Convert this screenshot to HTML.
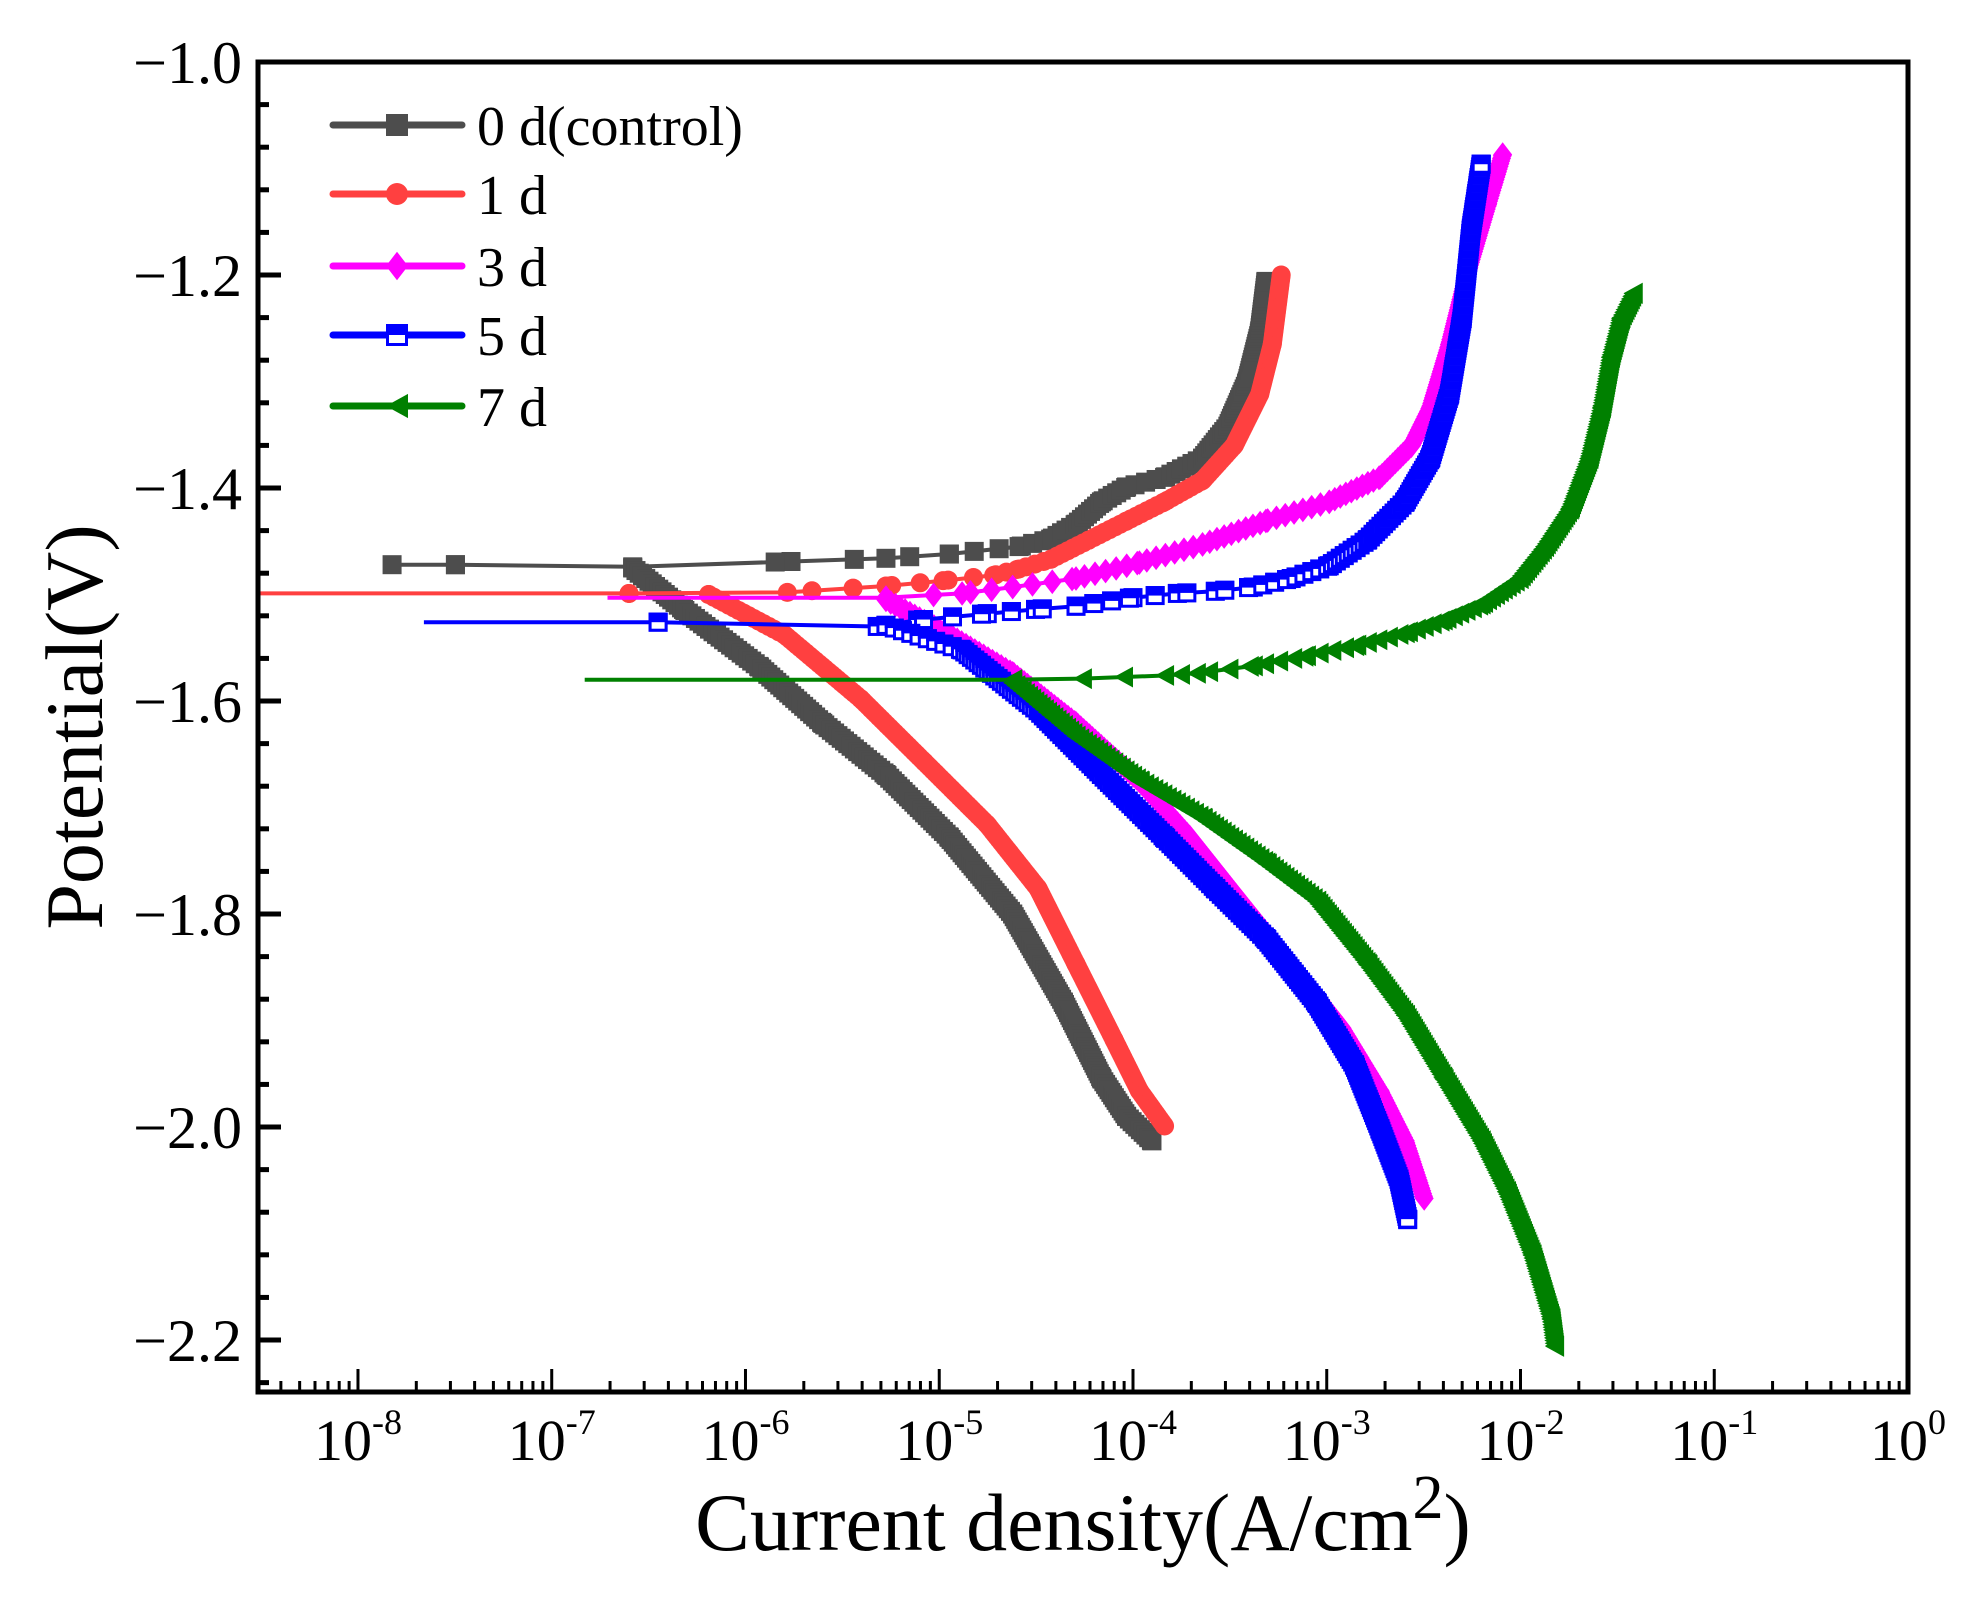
<!DOCTYPE html>
<html><head><meta charset="utf-8"><style>
html,body{margin:0;padding:0;background:#fff;}
svg{display:block;font-family:"Liberation Serif",serif;}
</style></head><body>
<svg id="chart" width="1986" height="1602" viewBox="0 0 1986 1602" xmlns="http://www.w3.org/2000/svg">
<rect width="1986" height="1602" fill="#fff"/>
<g id="curves"></g>
<g id="axes"></g>
<g id="legend"></g>
<text x="1083" y="1550" text-anchor="middle" font-size="82">Current density(A/cm<tspan dy="-32" font-size="62">2</tspan><tspan dy="32">)</tspan></text>
<text transform="translate(102,727) rotate(-90)" text-anchor="middle" font-size="82">Potential(V)</text>
</svg>
<script>
// ---- data: [log10(I), E] ----
const seriesNames = ["0 d(control)","1 d","3 d","5 d","7 d"];
const seriesColors = ["#4d4d4d","#ff4040","#ff00ff","#0000ff","#008000"];
const yTicks = [-1.0,-1.2,-1.4,-1.6,-1.8,-2.0,-2.2];
const yTickLabels = ["\u22121.0","\u22121.2","\u22121.4","\u22121.6","\u22121.8","\u22122.0","\u22122.2"];
const xDecades = [-8,-7,-6,-5,-4,-3,-2,-1,0];
const xTickLabels = ["-8","-7","-6","-5","-4","-3","-2","-1","0"];

const s0Lead = [];
const s0Anodic = [[-7.824,-1.472],[-7.497,-1.472],[-6.582,-1.474],[-5.765,-1.469],[-5.275,-1.466],[-4.948,-1.462],[-4.588,-1.455],[-4.425,-1.448],[-4.294,-1.434],[-4.163,-1.413],[-4.033,-1.399],[-3.837,-1.390],[-3.641,-1.372],[-3.510,-1.342],[-3.412,-1.301],[-3.346,-1.253],[-3.314,-1.206]];
const s0Cathodic = [[-6.582,-1.475],[-6.320,-1.514],[-5.928,-1.568],[-5.601,-1.621],[-5.275,-1.669],[-4.948,-1.728],[-4.621,-1.800],[-4.359,-1.883],[-4.163,-1.954],[-4.033,-1.990],[-3.902,-2.013]];

const s1Lead = [[-8.6,-1.499],[-6.601,-1.499]];
const s1Anodic = [[-6.601,-1.499],[-5.784,-1.498],[-5.275,-1.492],[-4.980,-1.487],[-4.719,-1.482],[-4.588,-1.476],[-4.425,-1.467],[-4.229,-1.449],[-4.033,-1.431],[-3.837,-1.413],[-3.641,-1.393],[-3.477,-1.360],[-3.346,-1.312],[-3.281,-1.265],[-3.235,-1.200]];
const s1Cathodic = [[-6.190,-1.500],[-5.797,-1.538],[-5.405,-1.598],[-5.078,-1.657],[-4.752,-1.716],[-4.490,-1.776],[-4.294,-1.847],[-4.098,-1.918],[-3.967,-1.966],[-3.837,-1.999]];

const s2Lead = [[-6.712,-1.503],[-5.275,-1.503]];
const s2Anodic = [[-5.275,-1.503],[-4.882,-1.499],[-4.621,-1.493],[-4.294,-1.485],[-3.967,-1.470],[-3.641,-1.453],[-3.314,-1.431],[-2.987,-1.413],[-2.725,-1.390],[-2.562,-1.360],[-2.464,-1.324],[-2.366,-1.265],[-2.268,-1.194],[-2.170,-1.134],[-2.092,-1.087]];
const s2Cathodic = [[-5.275,-1.505],[-4.948,-1.538],[-4.621,-1.574],[-4.294,-1.621],[-3.967,-1.675],[-3.706,-1.728],[-3.444,-1.788],[-3.183,-1.847],[-2.922,-1.907],[-2.725,-1.966],[-2.595,-2.013],[-2.497,-2.067]];

const s3Lead = [[-7.660,-1.526],[-6.451,-1.526]];
const s3Anodic = [[-6.451,-1.526],[-5.320,-1.530],[-5.111,-1.524],[-4.752,-1.518],[-4.503,-1.514],[-4.294,-1.511],[-4.000,-1.503],[-3.771,-1.499],[-3.575,-1.497],[-3.379,-1.493],[-3.183,-1.485],[-2.987,-1.473],[-2.791,-1.449],[-2.595,-1.413],[-2.464,-1.372],[-2.366,-1.312],[-2.301,-1.241],[-2.255,-1.158],[-2.203,-1.096]];
const s3Cathodic = [[-5.275,-1.529],[-4.882,-1.552],[-4.490,-1.609],[-4.163,-1.669],[-3.837,-1.728],[-3.575,-1.776],[-3.314,-1.823],[-3.052,-1.883],[-2.856,-1.942],[-2.725,-2.002],[-2.627,-2.049],[-2.582,-2.087]];

const s4Lead = [[-6.830,-1.580],[-4.621,-1.580]];
const s4Anodic = [[-4.621,-1.580],[-4.261,-1.579],[-3.837,-1.576],[-3.673,-1.574],[-3.379,-1.567],[-3.118,-1.558],[-2.856,-1.548],[-2.595,-1.536],[-2.399,-1.524],[-2.203,-1.509],[-2.007,-1.485],[-1.876,-1.455],[-1.745,-1.419],[-1.647,-1.372],[-1.582,-1.324],[-1.536,-1.277],[-1.484,-1.241],[-1.418,-1.217]];
const s4Cathodic = [[-4.621,-1.583],[-4.294,-1.633],[-3.967,-1.675],[-3.641,-1.710],[-3.314,-1.752],[-3.052,-1.788],[-2.791,-1.847],[-2.595,-1.895],[-2.399,-1.954],[-2.203,-2.013],[-2.072,-2.061],[-1.941,-2.120],[-1.843,-2.180],[-1.824,-2.206]];

const leads = [s0Lead,s1Lead,s2Lead,s3Lead,s4Lead];
const anodics = [s0Anodic,s1Anodic,s2Anodic,s3Anodic,s4Anodic];
const cathodics = [s0Cathodic,s1Cathodic,s2Cathodic,s3Cathodic,s4Cathodic];

// ---- axes ----
const PL=258, PR=1908, PT=62, PB=1392;
const LOGMIN=-8.516, LOGMAX=0, YMAX=-1.0, YMIN=-2.2488;
function xs(l){return PL+(l-LOGMIN)/(LOGMAX-LOGMIN)*(PR-PL);}
function ys(e){return PT+(YMAX-e)/(YMAX-YMIN)*(PB-PT);}
const NS="http://www.w3.org/2000/svg";
function mk(tag,attrs,parent){const e=document.createElementNS(NS,tag);for(const k in attrs)e.setAttribute(k,attrs[k]);parent.appendChild(e);return e;}

const curves=document.getElementById('curves');
const axes=document.getElementById('axes');
const legend=document.getElementById('legend');
const clip=mk('clipPath',{id:'pc'},document.getElementById('chart'));
mk('rect',{x:PL,y:PT,width:PR-PL,height:PB-PT},clip);
curves.setAttribute('clip-path','url(#pc)');

function marker(type,color,x,y,parent,sz){
  let e;const h=sz/2;
  if(type===0){e=mk('rect',{x:x-h,y:y-h,width:sz,height:sz,fill:color},parent);}
  else if(type===1){e=mk('circle',{cx:x,cy:y,r:h,fill:color},parent);}
  else if(type===2){e=mk('polygon',{points:`${x},${y-h*1.3} ${x+h},${y} ${x},${y+h*1.3} ${x-h},${y}`,fill:color},parent);}
  else if(type===3){const g=mk('g',{},parent);mk('rect',{x:x-h+1.5,y:y-h+1.5,width:sz-3,height:sz-3,fill:'#fff',stroke:color,'stroke-width':3},g);mk('rect',{x:x-h,y:y-h,width:sz,height:h,fill:color},g);e=g;}
  else {e=mk('polygon',{points:`${x-h},${y} ${x+h},${y-h*1.1} ${x+h},${y+h*1.1}`,fill:color},parent);}
  return e;
}
function pathD(pts){return pts.map((p,i)=>(i?'L':'M')+xs(p[0]).toFixed(1)+','+ys(p[1]).toFixed(1)).join(' ');}

for(let s=0;s<5;s++){
  const g=mk('g',{},curves);
  
  
  const col=seriesColors[s];
  if(leads[s].length){
    const l=mk('path',{d:pathD(leads[s]),fill:'none',stroke:col,'stroke-width':4},g);
    
    
  }
  [anodics[s],cathodics[s]].forEach((br,bi)=>{
    const p=mk('path',{d:pathD(br),fill:'none',stroke:col,'stroke-width':4,'stroke-linejoin':'round'},g);
    
    
    const step=0.0025;
    const mg=mk('g',{},g);
    
    
    br.forEach(pt=>marker(s,col,xs(pt[0]),ys(pt[1]),mg,19));
    const e0=br[0][1], e1=br[br.length-1][1];
    const dir=e1>e0?1:-1;
    for(let e=e0; dir>0? e<=e1 : e>=e1; e+=dir*step){
      for(let i=0;i<br.length-1;i++){
        const a=br[i],b=br[i+1];
        if((e-a[1])*(e-b[1])<=0 && a[1]!==b[1]){
          const t=(e-a[1])/(b[1]-a[1]);
          marker(s,col,xs(a[0]+t*(b[0]-a[0])),ys(e),mg,19);break;
        }
      }
    }
  });
}

const fr=mk('rect',{x:PL,y:PT,width:PR-PL,height:PB-PT,fill:'none',stroke:'#000','stroke-width':5},axes);


for(let v=-1.0;v>=-2.2481;v-=0.04){
  const major=Math.abs(Math.round(v*5)-v*5)<1e-6;
  const t=mk('line',{x1:PL,x2:PL+(major?23:11),y1:ys(v),y2:ys(v),stroke:'#000','stroke-width':5},axes);
  
  
}
yTicks.forEach((v,i)=>{
  const t=mk('text',{x:242,y:ys(v)+21,'text-anchor':'end','font-size':60},axes);
  t.textContent=yTickLabels[i];
  
  
});
for(let d=-9;d<=0;d++){
  for(let m=1;m<=9;m++){
    const l=d+Math.log10(m);
    if(l<LOGMIN-1e-9||l>LOGMAX+1e-9)continue;
    const major=m===1;
    const t=mk('line',{x1:xs(l),x2:xs(l),y1:PB,y2:PB-(major?23:11),stroke:'#000','stroke-width':3},axes);
    
    
  }
}
xDecades.forEach((d,i)=>{
  const t=mk('text',{x:xs(d),y:1460,'text-anchor':'middle','font-size':58},axes);
  t.innerHTML='10<tspan dy="-26" font-size="36">'+xTickLabels[i]+'</tspan>';
  
  
});

const legY=[125,194,266,335,406];
seriesNames.forEach((n,i)=>{
  const g=mk('g',{},legend);
  
  
  mk('line',{x1:333,x2:462,y1:legY[i],y2:legY[i],stroke:seriesColors[i],'stroke-width':7,'stroke-linecap':'round'},g);
  marker(i,seriesColors[i],397,legY[i],g,22);
  const t=mk('text',{x:477,y:legY[i]+20,'font-size':56},g);
  t.textContent=n;
});
</script>
</body></html>
